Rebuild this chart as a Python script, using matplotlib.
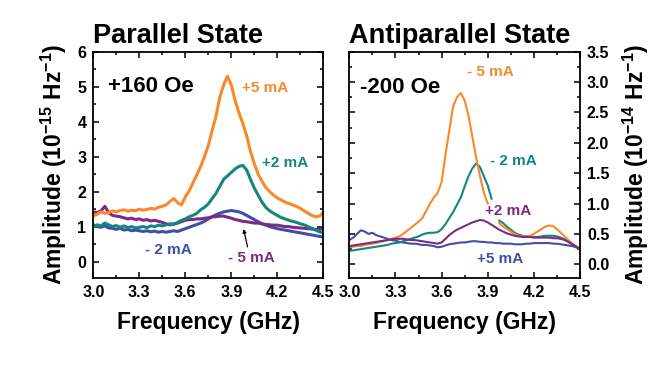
import numpy as np
import matplotlib
matplotlib.use("Agg")
import matplotlib.pyplot as plt
from matplotlib.ticker import MultipleLocator

plt.rcParams['font.family'] = ['Liberation Sans', 'DejaVu Sans']
plt.rcParams['font.weight'] = 'bold'
plt.rcParams['mathtext.default'] = 'regular'

nan = np.nan

freq = [3.000, 3.025, 3.050, 3.075, 3.100, 3.125, 3.150, 3.175, 3.200, 3.225,
        3.250, 3.275, 3.300, 3.325, 3.350, 3.375, 3.400, 3.425, 3.450, 3.475,
        3.500, 3.525, 3.550, 3.575, 3.600, 3.625, 3.650, 3.675, 3.700, 3.725,
        3.750, 3.775, 3.800, 3.825, 3.850, 3.875, 3.900, 3.925, 3.950, 3.975,
        4.000, 4.025, 4.050, 4.075, 4.100, 4.125, 4.150, 4.175, 4.200, 4.225,
        4.250, 4.275, 4.300, 4.325, 4.350, 4.375, 4.400, 4.425, 4.450, 4.475,
        4.500]

# Parallel state (+160 Oe), units 1e-15 Hz^-1
par_p5 = [1.30, 1.35, 1.42, 1.38, 1.40, 1.45, 1.42, 1.46, 1.48, 1.44,
          1.47, 1.45, 1.50, 1.47, 1.49, 1.52, 1.50, 1.55, 1.58, 1.62,
          1.72, 1.80, 1.68, 1.62, 1.85, 2.02, 2.25, 2.48, 2.72, 3.00,
          3.32, 3.75, 4.15, 4.70, 5.05, 5.30, 5.05, 4.60, 4.25, 3.95,
          3.60, 3.15, 2.80, 2.50, 2.30, 2.12, 2.00, 1.90, 1.82, 1.76,
          1.70, 1.66, 1.62, 1.58, 1.52, 1.45, 1.38, 1.32, 1.28, 1.30,
          1.40]
par_p2 = [1.00, 1.05, 1.02, 1.10, 1.05, 1.00, 1.03, 0.98, 1.02, 0.97,
          1.00, 0.96, 0.98, 1.00, 0.97, 1.02, 1.00, 1.04, 1.02, 1.05,
          1.08, 1.06, 1.12, 1.18, 1.22, 1.28, 1.32, 1.38, 1.48, 1.55,
          1.65, 1.80, 1.95, 2.15, 2.35, 2.45, 2.55, 2.65, 2.72, 2.75,
          2.62, 2.35, 2.10, 1.90, 1.70, 1.55, 1.45, 1.38, 1.32, 1.26,
          1.22, 1.18, 1.15, 1.12, 1.08, 1.05, 1.00, 0.95, 0.90, 0.85,
          0.82]
par_m5 = [1.42, 1.40, 1.45, 1.58, 1.40, 1.32, 1.30, 1.28, 1.25, 1.22,
          1.24, 1.20, 1.22, 1.18, 1.20, 1.16, 1.18, 1.15, 1.12, 1.08,
          1.05, 1.08, 1.10, 1.14, 1.18, 1.20, 1.20, 1.22, 1.22, 1.24,
          1.25, 1.28, 1.28, 1.30, 1.30, 1.27, 1.24, 1.20, 1.18, 1.15,
          1.14, 1.12, 1.10, 1.10, 1.08, 1.06, 1.05, 1.04, 1.04, 1.02,
          1.00, 1.00, 0.98, 0.97, 0.96, 0.95, 0.94, 0.93, 0.92, 0.92,
          0.95]
par_m2 = [1.05, 1.00, 0.98, 1.02, 0.96, 0.95, 0.92, 0.95, 0.90, 0.92,
          0.88, 0.90, 0.88, 0.86, 0.88, 0.85, 0.87, 0.84, 0.86, 0.84,
          0.86, 0.88, 0.86, 0.90, 0.94, 0.98, 1.02, 1.06, 1.10, 1.15,
          1.22, 1.28, 1.34, 1.38, 1.42, 1.44, 1.46, 1.44, 1.42, 1.38,
          1.32, 1.26, 1.20, 1.14, 1.08, 1.04, 1.00, 0.97, 0.94, 0.92,
          0.90, 0.88, 0.86, 0.84, 0.82, 0.80, 0.78, 0.76, 0.74, 0.72,
          0.70]

# Antiparallel state (-200 Oe), units 1e-14 Hz^-1
anti_m5 = [0.28, 0.29, 0.30, 0.30, 0.32, 0.33, 0.34, 0.35, 0.37, 0.38,
           0.40, 0.42, 0.44, 0.46, 0.50, 0.55, 0.60, 0.65, 0.70, 0.76,
           0.88, 1.00, 1.10, 1.18, 1.35, 1.80, 2.20, 2.60, 2.75, 2.82,
           2.70, 2.45, 2.10, 1.75, 1.45, 1.18, 1.00, nan, nan, 0.68,
           0.62, 0.58, 0.54, 0.50, 0.47, 0.46, 0.46, 0.47, 0.50, 0.54,
           0.58, 0.62, 0.64, 0.63, 0.58, 0.52, 0.46, 0.40, 0.34, 0.30,
           0.25]
anti_m2 = [0.22, 0.23, 0.24, 0.25, 0.26, 0.27, 0.28, 0.29, 0.30, 0.31,
           0.32, 0.34, 0.35, 0.36, 0.38, 0.40, 0.42, 0.44, 0.46, 0.49,
           0.51, 0.52, 0.52, 0.53, 0.58, 0.66, 0.76, 0.86, 0.98, 1.10,
           1.28, 1.45, 1.58, 1.66, 1.60, 1.45, 1.30, 1.08, nan, 0.72,
           0.68, 0.62, 0.57, 0.52, 0.49, 0.47, 0.46, 0.46, 0.45, 0.45,
           0.46, 0.47, 0.47, 0.47, 0.46, 0.44, 0.41, 0.37, 0.33, 0.29,
           0.25]
anti_p2 = [0.30, 0.31, 0.32, 0.33, 0.34, 0.35, 0.36, 0.37, 0.38, 0.39,
           0.40, 0.41, 0.42, 0.42, 0.42, 0.41, 0.40, 0.40, 0.39, 0.38,
           0.37, 0.36, 0.35, 0.34, 0.36, 0.42, 0.48, 0.53, 0.57, 0.60,
           0.63, 0.66, 0.69, 0.71, 0.73, 0.72, 0.69, 0.65, 0.61, 0.57,
           0.54, 0.51, 0.49, 0.47, 0.46, 0.45, 0.45, 0.45, 0.44, 0.44,
           0.44, 0.44, 0.44, 0.43, 0.43, 0.42, 0.40, 0.37, 0.33, 0.29,
           0.26]
anti_p5 = [0.40, 0.44, 0.50, 0.56, 0.54, 0.50, 0.52, 0.48, 0.46, 0.44,
           0.42, 0.40, 0.39, 0.37, 0.36, 0.35, 0.34, 0.34, 0.33, 0.32,
           0.32, 0.31, 0.30, 0.28, 0.29, 0.31, 0.33, 0.34, 0.35, 0.36,
           0.36, 0.37, 0.38, 0.38, 0.37, 0.37, 0.36, 0.36, 0.35, 0.35,
           0.34, 0.34, 0.34, 0.33, 0.33, 0.33, 0.34, 0.34, 0.35, 0.35,
           0.35, 0.35, 0.35, 0.34, 0.34, 0.33, 0.32, 0.31, 0.30, 0.28,
           0.25]

x_ticks = [3.0, 3.3, 3.6, 3.9, 4.2, 4.5]
x_tick_labels = ['3.0', '3.3', '3.6', '3.9', '4.2', '4.5']
par_yticks = [0, 1, 2, 3, 4, 5, 6]
anti_yticks = [0.0, 0.5, 1.0, 1.5, 2.0, 2.5, 3.0, 3.5]
anti_ytick_labels = ['0.0', '0.5', '1.0', '1.5', '2.0', '2.5', '3.0', '3.5']

ORANGE = '#F7892A'
TEAL = '#13877D'
PURPLE = '#7B2A85'
BLUE = '#3E4FA6'

fig = plt.figure(figsize=(6.53, 3.72), dpi=100)
ax1 = fig.add_axes([0.1429, 0.2527, 0.3522, 0.6083])
ax2 = fig.add_axes([0.5349, 0.2527, 0.3533, 0.6083])

lw = 2.2
ax1.plot(freq, par_m2, color=BLUE, lw=lw)
ax1.plot(freq, par_m5, color=PURPLE, lw=lw)
ax1.plot(freq, par_p2, color=TEAL, lw=lw)
ax1.plot(freq, par_p5, color=ORANGE, lw=lw)

lw2 = 1.5
ax2.plot(freq, anti_p5, color=BLUE, lw=lw2)
ax2.plot(freq, anti_m2, color=TEAL, lw=lw2)
ax2.plot(freq, anti_m5, color=ORANGE, lw=lw2)
ax2.plot(freq, anti_p2, color=PURPLE, lw=lw2)

for ax in (ax1, ax2):
    ax.set_xlim(3.0, 4.5)
    ax.set_xticks(x_ticks)
    ax.set_xticklabels(x_tick_labels)
    ax.xaxis.set_minor_locator(MultipleLocator(0.15))
    ax.tick_params(which='both', direction='in', top=True, bottom=True,
                   left=True, right=True, width=1.1)
    ax.tick_params(which='major', length=4, labelsize=11.5, pad=5)
    ax.tick_params(which='minor', length=2.5)
    for s in ax.spines.values():
        s.set_linewidth(1.3)
    ax.set_xlabel('Frequency (GHz)', fontsize=16.5, fontweight='bold', labelpad=8)
    for lab in ax.get_xticklabels() + ax.get_yticklabels():
        lab.set_fontweight('bold')

ax1.set_ylim(-0.47, 6)
ax1.set_yticks(par_yticks)
ax1.yaxis.set_minor_locator(MultipleLocator(0.5))
ax1.set_ylabel('Amplitude (10$^{-15}$ Hz$^{-1}$)', fontsize=16.5, fontweight='bold', labelpad=6)
ax1.set_title('Parallel State', loc='left', fontsize=19.5, fontweight='bold', pad=6)

ax2.set_ylim(-0.225, 3.5)
ax2.set_yticks(anti_yticks)
ax2.set_yticklabels(anti_ytick_labels)
ax2.yaxis.set_minor_locator(MultipleLocator(0.25))
ax2.tick_params(labelleft=False, labelright=True)
ax2.yaxis.set_label_position('right')
ax2.set_ylabel('Amplitude (10$^{-14}$ Hz$^{-1}$)', fontsize=16.5, fontweight='bold',
               rotation=90, labelpad=8)
ax2.set_title('Antiparallel State', loc='left', fontsize=19.5, fontweight='bold', pad=6)
for lab in ax2.get_yticklabels():
    lab.set_fontweight('bold')

fs = 11
ax1.text(3.096, 5.0, '+160 Oe', fontsize=16, fontweight='bold', va='center')
ax1.text(3.97, 4.96, '+5 mA', color=ORANGE, fontsize=fs, fontweight='bold', va='center')
ax1.text(4.10, 2.82, '+2 mA', color=TEAL, fontsize=fs, fontweight='bold', va='center')
ax1.text(3.337, 0.33, '- 2 mA', color=BLUE, fontsize=fs, fontweight='bold', va='center')
ax1.text(3.879, 0.10, '- 5 mA', color=PURPLE, fontsize=fs, fontweight='bold', va='center')
ax1.annotate('', xy=(3.98, 0.93), xytext=(4.006, 0.42),
             arrowprops=dict(arrowstyle='-|>', color='black', lw=0.9,
                             mutation_scale=5, shrinkA=0, shrinkB=0))

ax2.text(3.07, 2.91, '-200 Oe', fontsize=16, fontweight='bold', va='center')
ax2.text(3.765, 3.16, '- 5 mA', color=ORANGE, fontsize=fs, fontweight='bold', va='center')
ax2.text(3.915, 1.70, '- 2 mA', color=TEAL, fontsize=fs, fontweight='bold', va='center')
ax2.text(3.882, 0.88, '+2 mA', color=PURPLE, fontsize=fs, fontweight='bold', va='center')
ax2.text(3.83, 0.09, '+5 mA', color=BLUE, fontsize=fs, fontweight='bold', va='center')

fig.savefig('out.png', dpi=100)
